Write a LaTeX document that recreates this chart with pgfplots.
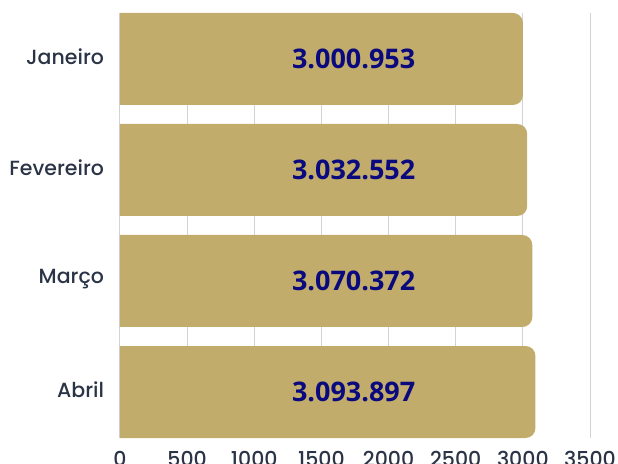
\documentclass[border=0pt]{standalone}
\usepackage{fontspec}
\setmainfont{Poppins}
\newfontfamily\medfont{Poppins Medium}
\newfontfamily\numfont{Open Sans}
\usepackage{pgfplots}
\pgfplotsset{compat=1.18}
\definecolor{barc}{HTML}{C2AC6B}
\definecolor{gridc}{HTML}{D2D2DA}
\definecolor{lbl}{HTML}{2B3446}
\definecolor{valc}{HTML}{0A0A7E}
\pgfplotsset{common/.style={
  at={(0,0)}, anchor=south west,
  scale only axis, width=470pt, height=425pt,
  xmin=0, xmax=3500, ymin=-0.4144, ymax=3.4144}}
\begin{document}
\begin{tikzpicture}[x=1pt,y=1pt]
\useasboundingbox (-120,-25) rectangle (498,438);
\begin{axis}[
  common,
  xbar stacked,
  stack negative=on previous,
  axis line style={draw=none},
  major tick length=0pt,
  xmajorgrids, grid style={gridc, line width=1pt},
  xtick={0,500,...,3500},
  ytick={0,1,2,3},
  yticklabels={Abril,Março,Fevereiro,Janeiro},
  /pgf/number format/assume math mode=true,
  /pgf/number format/1000 sep={},
  tick label style={font=\medfont\fontsize{20.5}{24}\selectfont, text=lbl},
  y tick label style={xshift=-12.5pt, yshift=2pt},
  x tick label style={yshift=-10pt},
]
\addplot[bar width=92pt, bar shift=0pt, fill=none, draw=none]
  coordinates {(-100,3) (-100,2) (-100,1) (-100,0)};
\addplot[bar width=92pt, bar shift=0pt, fill=barc, draw=none, rounded corners=10pt]
  coordinates {(3100.953,3) (3132.552,2) (3170.372,1) (3193.897,0)};
\end{axis}
\begin{axis}[common, hide axis]
\addplot[draw=none, mark=none, nodes near coords, point meta=explicit symbolic,
  nodes near coords style={font=\numfont\bfseries\fontsize{27}{31}\selectfont, text=valc, anchor=center}]
  table[meta=l] {
x y l
1740 3 3.000.953
1740 2 3.032.552
1740 1 3.070.372
1740 0 3.093.897
};
\end{axis}
\end{tikzpicture}
\end{document}
